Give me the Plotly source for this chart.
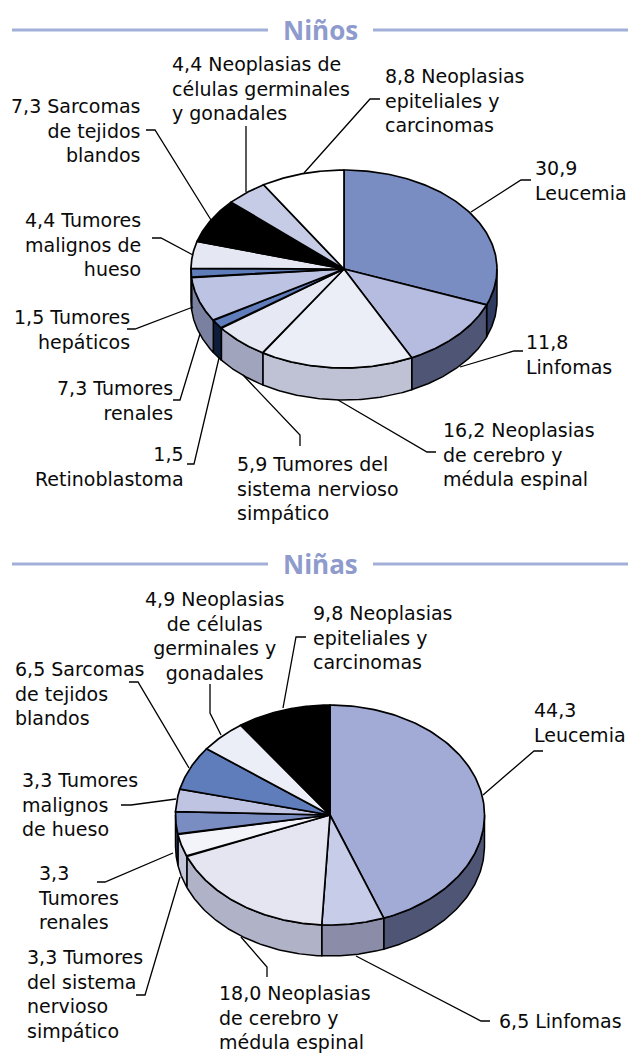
import numpy as np
import plotly.graph_objects as go

# ---- data ----
boys_values = [30.9, 11.8, 16.2, 5.9, 1.5, 7.3, 1.5, 4.4, 7.3, 4.4, 8.8]
boys_names = ["Leucemia", "Linfomas", "Neoplasias de cerebro y médula espinal",
              "Tumores del sistema nervioso simpático", "Retinoblastoma", "Tumores renales",
              "Tumores hepáticos", "Tumores malignos de hueso", "Sarcomas de tejidos blandos",
              "Neoplasias de células germinales y gonadales", "Neoplasias epiteliales y carcinomas"]
girls_values = [44.3, 6.5, 18.0, 3.3, 3.3, 3.3, 6.5, 4.9, 9.8]
girls_names = ["Leucemia", "Linfomas", "Neoplasias de cerebro y médula espinal",
               "Tumores del sistema nervioso simpático", "Tumores renales",
               "Tumores malignos de hueso", "Sarcomas de tejidos blandos",
               "Neoplasias de células germinales y gonadales", "Neoplasias epiteliales y carcinomas"]

# ---- styles ----
boys_top = ["#7A8DC3", "#B5BCDF", "#EBEDF7", "#E6E8F3", "#5F7CBB", "#BDC3E2",
            "#5F7CBB", "#E5E7F2", "#000000", "#C7CCE6", "#FFFFFF"]
boys_side = ["#2E3A5F", "#4F5675", "#BFC2D5", "#A0A4BC", "#0E1E3A", "#7A809F",
             "#2E3A5F", "#8A8CA8", "#000000", "#8A8CA8", "#B0B2C8"]
girls_top = ["#A2AAD6", "#C7CCE8", "#E4E5F1", "#F3F4FA", "#7A8DC3", "#BFC4E2",
             "#5F7CBB", "#ECEEF7", "#000000"]
girls_side = ["#4F5675", "#8A8CA8", "#B0B2C8", "#C5C8DA", "#2E3A5F", "#8A8CA8",
              "#2E3A5F", "#B0B2C8", "#000000"]

FONT = "DejaVu Sans"
FS = 19
HEAD = "#8E9BCC"
RULE = "#A2AFD8"

fig = go.Figure()


def add_pie(values, names, tops, sides, cx, cy, rx, ry, depth):
    edges = np.cumsum([0] + list(values)) / sum(values) * 2 * np.pi

    def ell(t, dy=0.0):
        return cx + rx * np.sin(t), cy - ry * np.cos(t) + dy

    for a, b, c, n in zip(edges[:-1], edges[1:], sides, names):
        lo, hi = max(a, np.pi / 2), min(b, 3 * np.pi / 2)
        if hi <= lo:
            continue
        t = np.linspace(lo, hi, 80)
        x1, y1 = ell(t)
        x2, y2 = ell(t[::-1], depth)
        fig.add_trace(go.Scatter(x=np.r_[x1, x2, x1[0]], y=np.r_[y1, y2, y1[0]], mode="lines",
                                 fill="toself", fillcolor=c, line=dict(color="black", width=1.5),
                                 name=n, showlegend=False, hoverinfo="skip"))
    for a, b, c, n, v in zip(edges[:-1], edges[1:], tops, names, values):
        t = np.linspace(a, b, 120)
        x1, y1 = ell(t)
        fig.add_trace(go.Scatter(x=np.r_[cx, x1, cx], y=np.r_[cy, y1, cy], mode="lines",
                                 fill="toself", fillcolor=c, line=dict(color="black", width=1.7),
                                 name=n, showlegend=False, hoverinfo="text", text=f"{v} {n}"))


add_pie(boys_values, boys_names, boys_top, boys_side, 344, 269, 153, 99, 32)
add_pie(girls_values, girls_names, girls_top, girls_side, 330, 815, 154.5, 110, 31)

# ---- leader lines (page pixels) ----
leaders = [
    [(531, 180), (521, 180), (471, 212)],
    [(380, 99), (370, 99), (304, 173)],
    [(246, 126), (246, 192)],
    [(146, 130), (155, 130), (211, 220)],
    [(152, 238), (161, 238), (193, 255)],
    [(127, 329), (135, 329), (193, 307)],
    [(173, 400), (180, 400), (200, 334)],
    [(187, 464), (194, 464), (219, 358)],
    [(300, 446), (300, 435), (243, 375)],
    [(436, 452), (427, 452), (338, 400)],
    [(523, 351), (514, 351), (460, 367)],
    [(543, 751), (534, 751), (483, 795)],
    [(306, 637), (296, 637), (283, 708)],
    [(210, 684), (210, 713), (221, 735)],
    [(129, 682), (138, 682), (189, 768)],
    [(121, 805), (131, 805), (176, 799)],
    [(97, 882), (105, 882), (173, 853)],
    [(136, 995), (145, 995), (180, 877)],
    [(267, 977), (267, 967), (241, 937)],
    [(490, 1021), (481, 1021), (356, 956)],
]
shapes = []
for pts in leaders:
    path = "M" + " L".join(f"{x},{y}" for x, y in pts)
    shapes.append(dict(type="path", path=path, xref="x", yref="y",
                       line=dict(color="black", width=1.3), layer="above"))
for y, spans in [(30, [(12, 268), (373, 628)]), (564, [(12, 268), (373, 628)])]:
    for x0, x1 in spans:
        shapes.append(dict(type="line", x0=x0, x1=x1, y0=y, y1=y, xref="x", yref="y",
                           line=dict(color=RULE, width=3)))

# ---- text: (x, centre y, anchor, lines) ----
labels = [
    (172, 88, "left", ["4,4 Neoplasias de", "células germinales", "y gonadales"]),
    (385, 100, "left", ["8,8 Neoplasias", "epiteliales y", "carcinomas"]),
    (535, 180, "left", ["30,9", "Leucemia"]),
    (140, 130, "right", ["7,3 Sarcomas", "de tejidos", "blandos"]),
    (141, 244, "right", ["4,4 Tumores", "malignos de", "hueso"]),
    (130, 329, "right", ["1,5 Tumores", "hepáticos"]),
    (173, 400, "right", ["7,3 Tumores", "renales"]),
    (184, 466, "right", ["1,5", "Retinoblastoma"]),
    (237, 488, "left", ["5,9 Tumores del", "sistema nervioso", "simpático"]),
    (443, 454, "left", ["16,2 Neoplasias", "de cerebro y", "médula espinal"]),
    (526, 354, "left", ["11,8", "Linfomas"]),
    (215, 636, "center", ["4,9 Neoplasias", "de células", "germinales y", "gonadales"]),
    (313, 637, "left", ["9,8 Neoplasias", "epiteliales y", "carcinomas"]),
    (534, 722, "left", ["44,3", "Leucemia"]),
    (15, 693, "left", ["6,5 Sarcomas", "de tejidos", "blandos"]),
    (22, 804, "left", ["3,3 Tumores", "malignos", "de hueso"]),
    (38, 897, "left", ["3,3", "Tumores", "renales"]),
    (27, 994, "left", ["3,3 Tumores", "del sistema", "nervioso", "simpático"]),
    (219, 1017, "left", ["18,0 Neoplasias", "de cerebro y", "médula espinal"]),
    (499, 1021, "left", ["6,5 Linfomas"]),
]
ann = [dict(x=x, y=y, xref="x", yref="y", text="<br>".join(lines), showarrow=False, xanchor=a,
            yanchor="middle", align=a, font=dict(family=FONT, size=FS, color="#0a0a0a"),
            borderpad=0, borderwidth=0)
       for x, y, a, lines in labels]
for y, t in [(30, "Niños"), (564, "Niñas")]:
    ann.append(dict(x=320, y=y, xref="x", yref="y", text=f"<b>{t}</b>", showarrow=False,
                    font=dict(family="Open Sans", size=26, color=HEAD)))

fig.update_layout(
    width=630, height=1053, margin=dict(l=0, r=0, t=0, b=0),
    paper_bgcolor="white", plot_bgcolor="white", showlegend=False,
    xaxis=dict(range=[0, 630], visible=False, fixedrange=True),
    yaxis=dict(range=[1053, 0], visible=False, fixedrange=True),
    shapes=shapes, annotations=ann,
)
fig.write_html("out.html", config=dict(displayModeBar=False),
               post_script="document.body.style.margin='0';")
